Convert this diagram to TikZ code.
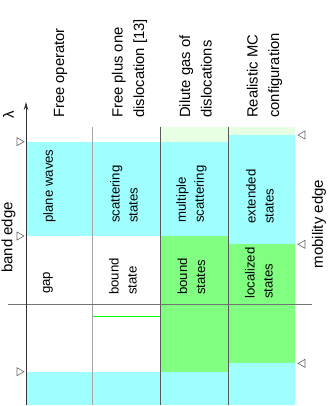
\documentclass[tikz,border=0pt]{standalone}
\usepackage{fontspec}
\setmainfont{Liberation Sans}
\usetikzlibrary{arrows.meta}
\definecolor{waves}{RGB}{159,255,255}
\definecolor{bound}{RGB}{128,255,128}
\definecolor{palebound}{RGB}{231,255,226}
\tikzset{
    header/.style={
        rotate=90,
        anchor=west,
        align=left,
        inner sep=0pt,
        font=\fontsize{14.8}{21.5}\selectfont
    },
    cell/.style={
        rotate=90,
        anchor=west,
        align=left,
        inner sep=0pt,
        font=\fontsize{13.2}{18}\selectfont
    },
    edge label/.style={
        rotate=90,
        inner sep=0pt,
        font=\fontsize{15}{18}\selectfont
    },
    column/.style={draw=black!65, line width=0.8pt},
    marker/.style={draw=black!60, line width=0.6pt, line join=miter}
}
\begin{document}
\begin{tikzpicture}[x=1pt, y=-1pt]
            \useasboundingbox (0,0) rectangle (327,406);

            % Spectra :
            \fill [palebound] (160.7,126.7) rectangle (295.3,141.7);
            \fill [waves] (26,141.7) rectangle (228,236);
            \fill [waves] (228,135) rectangle (295.3,244.3);
            \fill [bound] (160.7,236) rectangle (228,371.7);
            \fill [bound] (228,244.3) rectangle (295.3,363.3);
            \fill [waves] (26,371.7) rectangle (228,405);
            \fill [waves] (228,363.3) rectangle (295.3,405);
            \draw [green, line width=1pt] (92.7,316.7) -- (160.7,316.7);

            % Columns
            \draw [column, draw=black!35] (92.7,126.7) -- (92.7,405);
            \draw [column] (160.7,126.7) -- (160.7,405);
            \draw [column] (228,126.7) -- (228,405);
            \draw [draw=black!55, line width=0.7pt] (8,304) -- (312,304);

            % Energy axis
            \coordinate (origin) at (26,405);
            \coordinate (top) at (26,102);
            \draw [-{Stealth[length=8pt, width=4.5pt]}, line width=0.8pt, black!80]
                (origin) -- (top);
            \node (lambda) [edge label] at (8.5,115) {λ};

            % Band edges
            \foreach \y in {141.7,236,371.7}
                \draw [marker] (17,\y-4) -- (24,\y) -- (17,\y+4) -- cycle;
            \node (band) [edge label] at (8.5,237.5) {band edge};

            % Mobility edges
            \foreach \y in {135,244.3,363.3}
                \draw [marker] (305,\y-4) -- (298,\y) -- (305,\y+4) -- cycle;
            \node (mobility) [edge label] at (319,224) {mobility edge};

            % Headers
            \node (free) [header] at (60.5,118) {Free operator};
            \node (single) [header] at (129.5,118) {Free plus one\\dislocation [13]};
            \node (dilute) [header] at (195.5,118) {Dilute gas of\\dislocations};
            \node (realistic) [header] at (264.5,118) {Realistic MC\\configuration};

            % States
            \node (plane) [cell] at (49.5,223) {plane waves};
            \node (scattering) [cell] at (124,223) {scattering\\states};
            \node (multiple) [cell] at (191.5,223) {multiple\\scattering};
            \node (extended) [cell] at (260,224) {extended\\states};
            \node (gap) [cell] at (48,294) {gap};
            \node (single bound) [cell] at (123,295) {bound\\state};
            \node (dilute bound) [cell] at (191.5,295) {bound\\states};
            \node (localized) [cell] at (259,299) {localized\\states};
        \end{tikzpicture}
\end{document}
